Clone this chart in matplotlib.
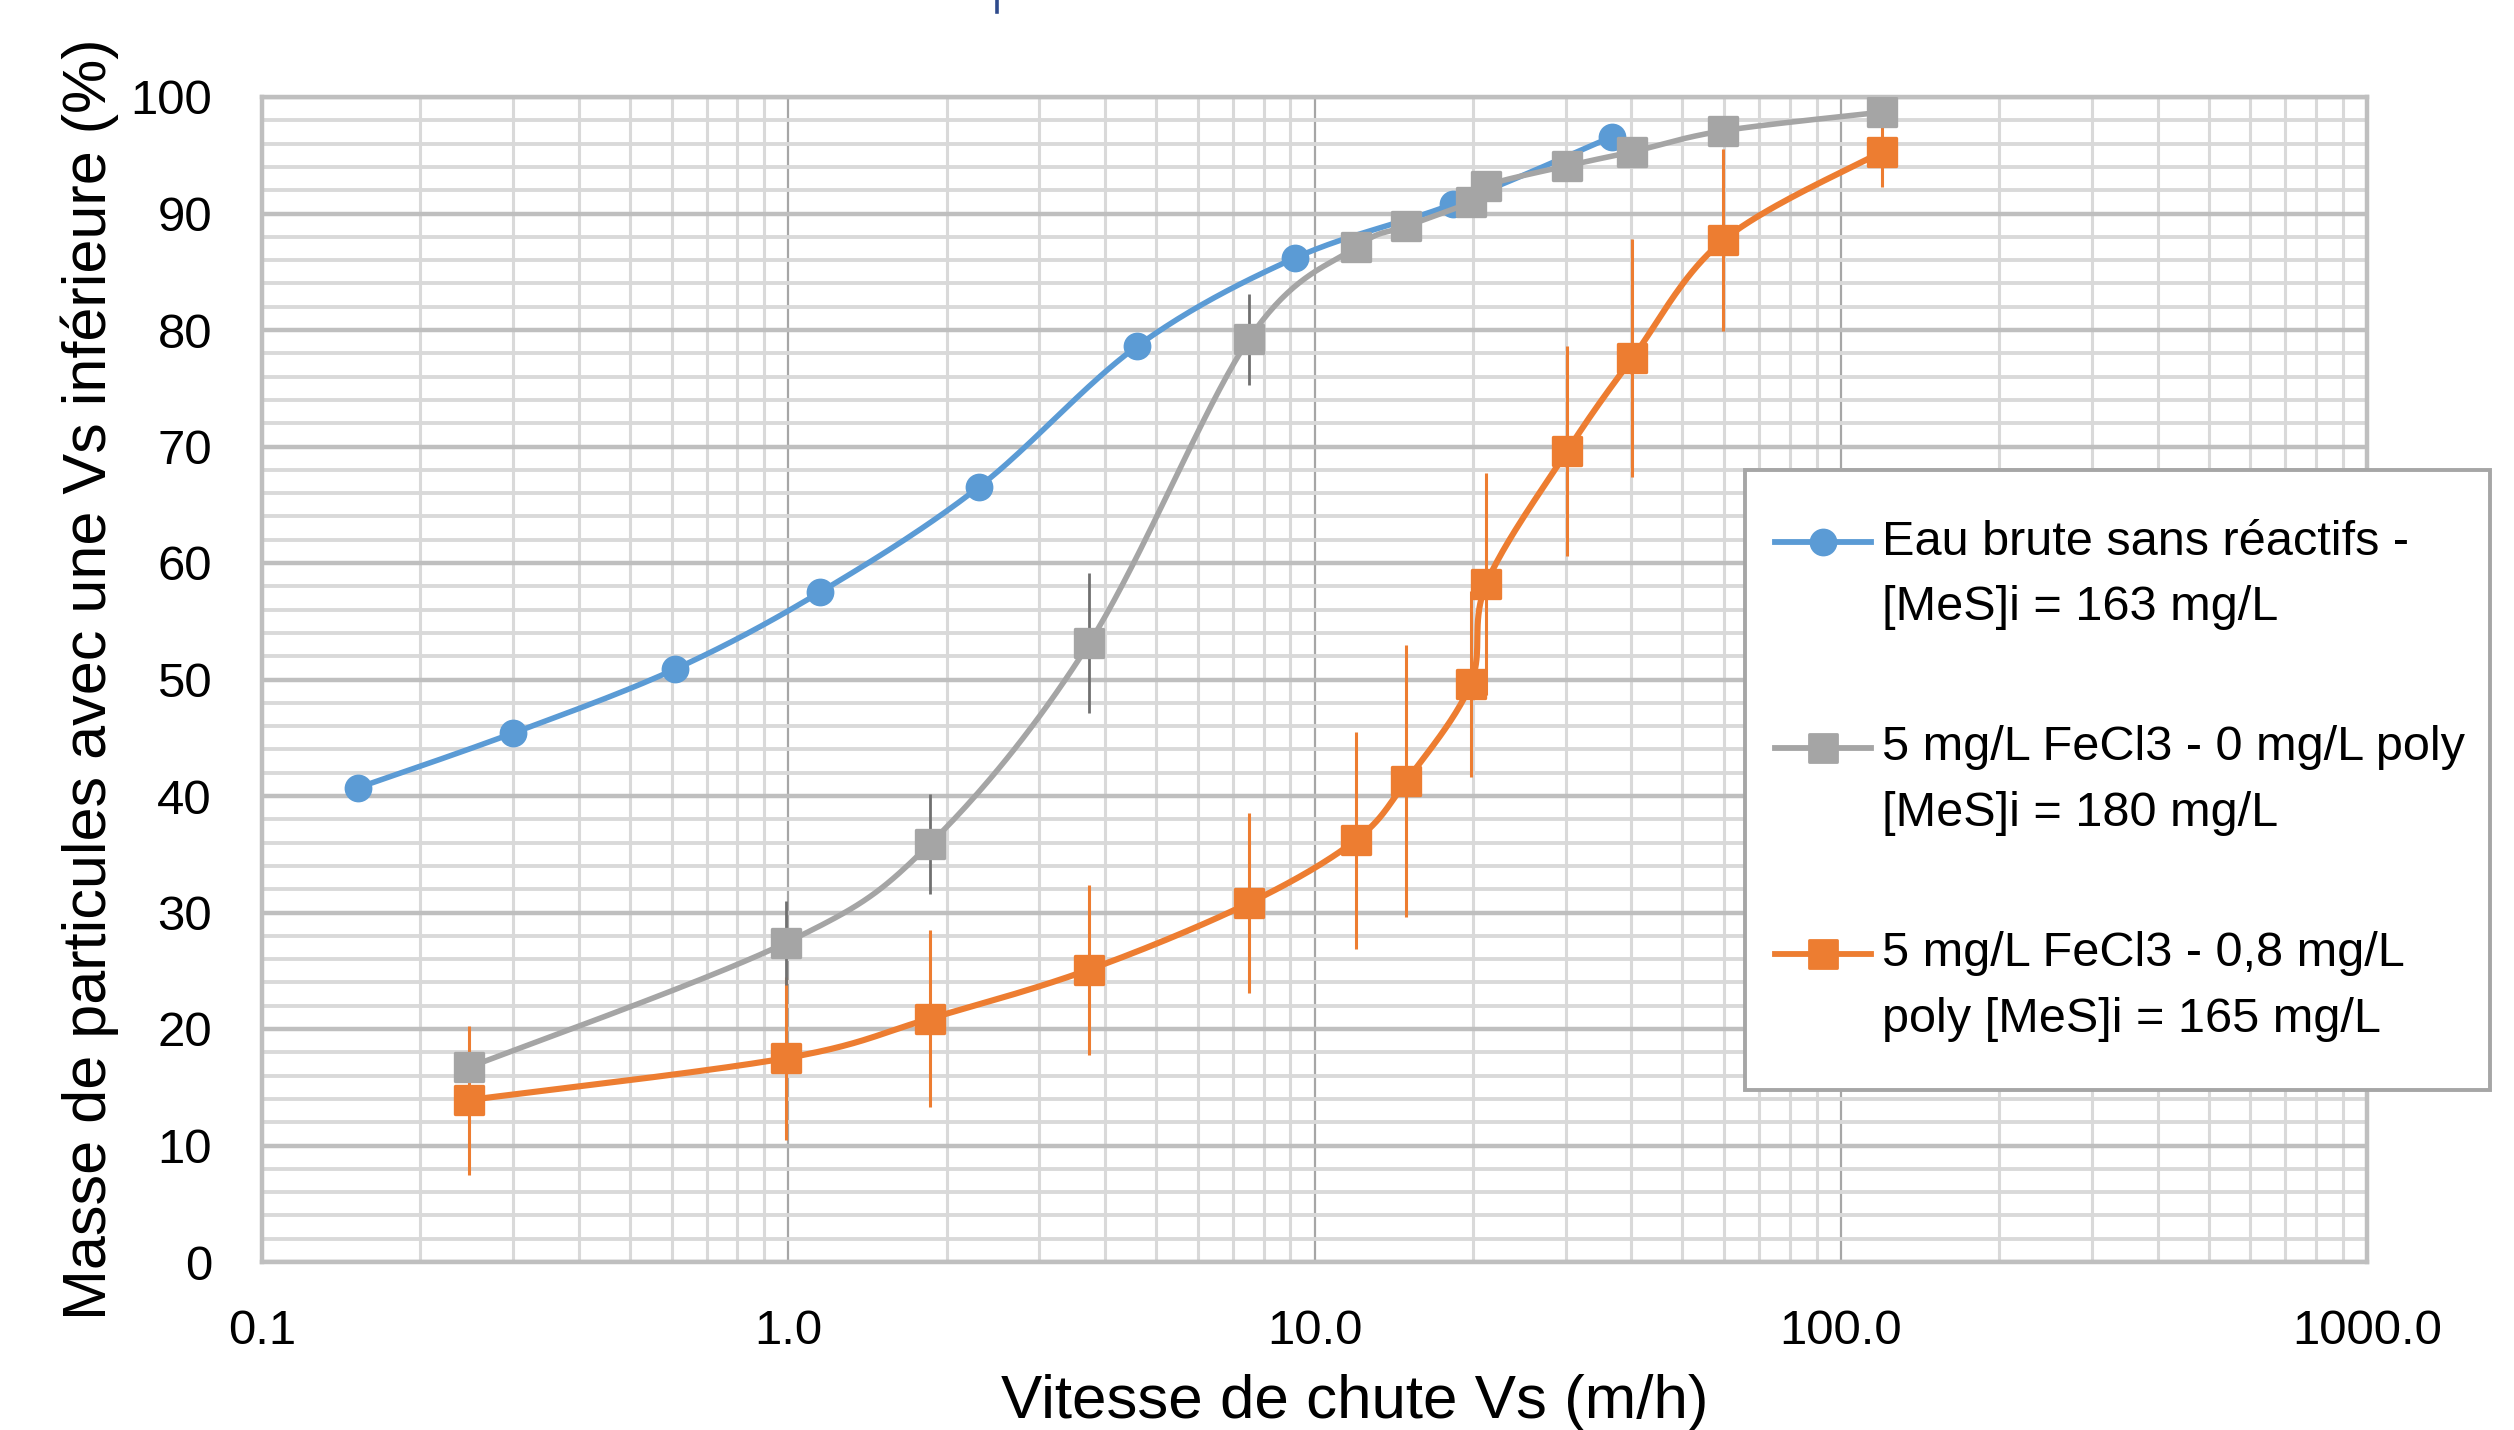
import numpy as np
import matplotlib
matplotlib.use("Agg")
import matplotlib.pyplot as plt
from matplotlib import font_manager
from matplotlib.lines import Line2D
from matplotlib.patches import Rectangle
from matplotlib.markers import MarkerStyle
from matplotlib.ticker import LogLocator, MultipleLocator, FixedLocator, FixedFormatter, NullFormatter

# ---------------- data ----------------
vs_blue = [0.152, 0.30, 0.61, 1.15, 2.3, 4.6, 9.2, 18.3, 36.8]
pct_blue = [40.7, 45.4, 50.9, 57.5, 66.5, 78.6, 86.2, 90.8, 96.6]

vs_test = [0.247, 0.99, 1.86, 3.73, 7.5, 11.97, 14.95, 19.8, 21.2, 30.2, 40.2, 59.8, 119.7]
pct_gray = [16.7, 27.4, 35.9, 53.1, 79.2, 87.1, 88.9, 91.0, 92.4, 94.1, 95.3, 97.1, 98.7]
err_gray = [0.0, 3.6, 4.3, 6.0, 3.9, 0.0, 0.0, 0.0, 0.0, 0.0, 0.0, 0.0, 0.0]
pct_orange = [13.9, 17.5, 20.9, 25.1, 30.8, 36.2, 41.3, 49.6, 58.2, 69.6, 77.6, 87.7, 95.3]
err_orange = [6.4, 7.0, 7.6, 7.3, 7.7, 9.3, 11.7, 8.0, 9.5, 9.0, 10.2, 7.8, 3.0]

labels = [["Eau brute sans réactifs -", "[MeS]i = 163 mg/L"],
          ["5 mg/L FeCl3 - 0 mg/L poly", "[MeS]i = 180 mg/L"],
          ["5 mg/L FeCl3 - 0,8 mg/L", "poly [MeS]i = 165 mg/L"]]
x_ticks = [0.1, 1, 10, 100, 1000]
x_ticklabels = ["0.1", "1.0", "10.0", "100.0", "1000.0"]
y_ticks = list(range(0, 101, 10))

C_BLUE = "#5B9BD5"
C_GRAY = "#A5A5A5"
C_ORANGE = "#ED7D31"

# ---------------- fonts ----------------
names = {f.name for f in font_manager.fontManager.ttflist}
if "Liberation Sans Narrow" in names:
    FONT = "Liberation Sans Narrow"; K = 1.22
else:
    FONT = "Liberation Sans"; K = 1.0
plt.rcParams["font.family"] = [FONT, "DejaVu Sans"]

FS_TICK = 17.7 / K if FONT.endswith("Narrow") else 17.7
FS_TICK = 17.7 * (1.22 if FONT.endswith("Narrow") else 1.0)
FS_XLAB = 22.3 * (1.22 if FONT.endswith("Narrow") else 1.0)
FS_YLAB = 22.0 * (1.22 if FONT.endswith("Narrow") else 1.0)
FS_LEG = 17.5 * (1.22 if FONT.endswith("Narrow") else 1.0)

W, H, DPI = 2514, 1430, 200
fig = plt.figure(figsize=(W / DPI, H / DPI), dpi=DPI)
fig.patch.set_facecolor("white")

L, R, T, B = 262, 2367, 97, 1262
ax = fig.add_axes([L / W, 1 - B / H, (R - L) / W, (B - T) / H])
ax.set_xscale("log")
ax.set_xlim(0.1, 1000)
ax.set_ylim(0, 100)

# grid
ax.xaxis.set_major_locator(FixedLocator(x_ticks))
ax.xaxis.set_major_formatter(FixedFormatter(x_ticklabels))
ax.xaxis.set_minor_locator(LogLocator(base=10, subs=np.arange(2, 10)))
ax.xaxis.set_minor_formatter(NullFormatter())
ax.yaxis.set_major_locator(FixedLocator(y_ticks))
ax.yaxis.set_minor_locator(MultipleLocator(2))
ax.set_axisbelow(True)
ax.grid(axis="y", which="minor", color="#d9d9d9", lw=1.4, zorder=0)
ax.grid(axis="x", which="minor", color="#d9d9d9", lw=1.1, zorder=0)
ax.grid(axis="y", which="major", color="#bfbfbf", lw=1.6, zorder=0)
ax.grid(axis="x", which="major", color="#a6a6a6", lw=0.8, zorder=0)
for s in ax.spines.values():
    s.set_color("#bfbfbf")
    s.set_linewidth(1.6)
ax.tick_params(which="both", length=0)
ax.tick_params(axis="x", pad=17, labelsize=FS_TICK)
ax.tick_params(axis="y", pad=18, labelsize=FS_TICK)

# smoothing (Excel-like Bezier through points, computed in display-proportional space)
SX, SY = 526.0, 11.65
def smooth(xs, ys, n=40):
    P = np.column_stack([np.log10(xs) * SX, np.asarray(ys) * SY])
    E = np.vstack([P[0], P, P[-1]])
    out = [P[0]]
    t = np.linspace(0, 1, n)[1:, None]
    for i in range(len(P) - 1):
        p0, p1, p2, p3 = E[i], E[i + 1], E[i + 2], E[i + 3]
        c1 = p1 + (p2 - p0) / 6.0
        c2 = p2 - (p3 - p1) / 6.0
        seg = (1 - t) ** 3 * p1 + 3 * (1 - t) ** 2 * t * c1 + 3 * (1 - t) * t ** 2 * c2 + t ** 3 * p2
        out.extend(seg)
    out = np.array(out)
    return 10 ** (out[:, 0] / SX), out[:, 1] / SY

sq = MarkerStyle("s", joinstyle="round")
ci = MarkerStyle("o")
MS_C, MS_S = 9.0, 10.0

# blue
xs, ys = smooth(vs_blue, pct_blue)
ax.plot(xs, ys, color=C_BLUE, lw=2.0, zorder=3, solid_capstyle="round")
ax.plot(vs_blue, pct_blue, ls="none", marker=ci, ms=MS_C, color=C_BLUE, mec=C_BLUE, zorder=3.1)

# orange
xs, ys = smooth(vs_test, pct_orange)
ax.errorbar(vs_test, pct_orange, yerr=err_orange, fmt="none", ecolor=C_ORANGE, elinewidth=1.1, capsize=0, zorder=3.5)
ax.plot(xs, ys, color=C_ORANGE, lw=2.2, zorder=3.6, solid_capstyle="round")
ax.plot(vs_test, pct_orange, ls="none", marker=sq, ms=MS_S, color=C_ORANGE, mec=C_ORANGE, mew=1.2, zorder=3.7)

# gray
xs, ys = smooth(vs_test, pct_gray)
ax.errorbar(vs_test, pct_gray, yerr=err_gray, fmt="none", ecolor="#707070", elinewidth=1.0, capsize=0, zorder=4.0)
ax.plot(xs, ys, color=C_GRAY, lw=2.0, zorder=4.1, solid_capstyle="round")
ax.plot(vs_test, pct_gray, ls="none", marker=sq, ms=MS_S, color=C_GRAY, mec=C_GRAY, mew=1.2, zorder=4.2)

# axis labels
ax.set_xlabel("Vitesse de chute Vs (m/h)", fontsize=FS_XLAB, va="baseline")
ax.xaxis.set_label_coords((1355 - L) / (R - L), (B - 1418) / (B - T))
ax.set_ylabel("Masse de particules avec une Vs inférieure (%)", fontsize=FS_YLAB, va="baseline")
ax.yaxis.set_label_coords((106 - L) / (R - L), 0.5)

# ---------------- legend (manual, figure pixels) ----------------
def fx(px): return px / W
def fy(py): return 1 - py / H

fig.patches.append(Rectangle((fx(1745), fy(1090)), fx(2490) - fx(1745), fy(470) - fy(1090),
                             transform=fig.transFigure, facecolor="white", edgecolor="#a6a6a6",
                             lw=1.4, zorder=10))
entries = [(C_BLUE, ci, MS_C, 542), (C_GRAY, sq, MS_S, 748), (C_ORANGE, sq, MS_S, 954)]
for (col, mk, ms, yy), lab in zip(entries, labels):
    fig.lines.append(Line2D([fx(1775), fx(1871)], [fy(yy), fy(yy)], transform=fig.transFigure,
                            color=col, lw=2.1, zorder=11))
    fig.lines.append(Line2D([fx(1823)], [fy(yy)], transform=fig.transFigure, ls="none",
                            marker=mk, ms=ms, color=col, mec=col, zorder=12))
    fig.text(fx(1882), fy(yy), lab[0], fontsize=FS_LEG, ha="left", va="center", zorder=12)
    fig.text(fx(1882), fy(yy + 66), lab[1], fontsize=FS_LEG, ha="left", va="center", zorder=12)

# small cropped artifact at top
fig.lines.append(Line2D([fx(997), fx(997)], [fy(0), fy(12)], transform=fig.transFigure,
                        color="#2F4B8C", lw=1.3))

fig.savefig("out.png", dpi=DPI, facecolor="white")
